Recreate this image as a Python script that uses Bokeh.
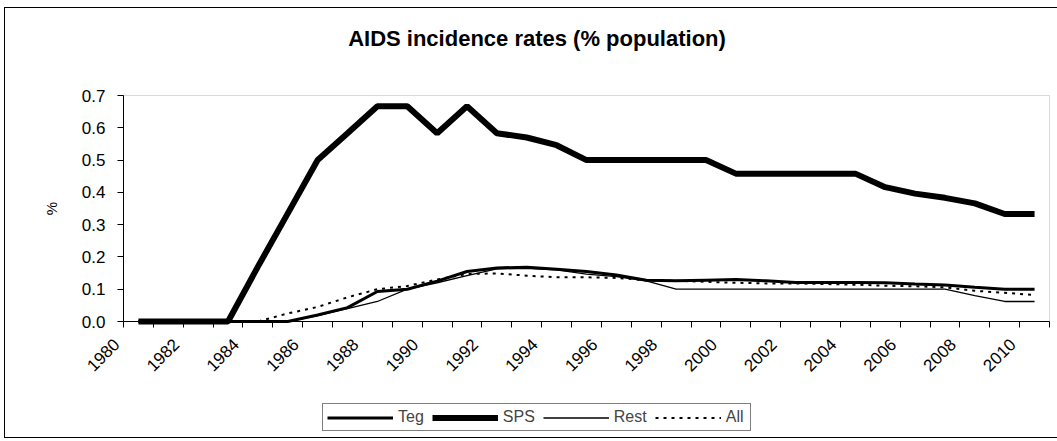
from bokeh.plotting import figure
from bokeh.models import (Range1d, FixedTicker, Legend, LegendItem, Label,
                          NumeralTickFormatter, BoxAnnotation, ColumnDataSource)
from bokeh.core.properties import value
from bokeh.embed import file_html
from bokeh.resources import INLINE
import math

years = list(range(1980, 2011))
tick_years = list(range(1980, 2011, 2))
tick_labels = [str(y) for y in tick_years]

sps = [0, 0, 0, 0, 0.17, 0.335, 0.5, 0.583, 0.667, 0.667, 0.583, 0.667, 0.583, 0.57, 0.546,
       0.5, 0.5, 0.5, 0.5, 0.5, 0.458, 0.458, 0.458, 0.458, 0.458, 0.416, 0.396, 0.383, 0.366,
       0.333, 0.333]
teg = [0, 0, 0, 0, 0, 0, 0.02, 0.043, 0.093, 0.1, 0.125, 0.155, 0.166, 0.168, 0.162,
       0.155, 0.144, 0.128, 0.126, 0.128, 0.13, 0.126, 0.121, 0.121, 0.121, 0.12, 0.116, 0.113,
       0.106, 0.1, 0.1]
rest = [0, 0, 0, 0, 0, 0, 0.018, 0.04, 0.062, 0.1, 0.12, 0.142, 0.163, 0.165, 0.16,
        0.147, 0.139, 0.126, 0.1, 0.1, 0.1, 0.1, 0.1, 0.1, 0.1, 0.1, 0.1, 0.1,
        0.08, 0.062, 0.062]
all_ = [0, 0, 0, 0, 0, 0.025, 0.045, 0.075, 0.1, 0.11, 0.13, 0.147, 0.149, 0.142, 0.137,
        0.137, 0.135, 0.128, 0.126, 0.123, 0.12, 0.118, 0.118, 0.116, 0.114, 0.111, 0.109, 0.106,
        0.095, 0.089, 0.082]

FONT = "Liberation Sans"

# ---- layout (pixels) ----
W, H = 1057, 440
FR_L, FR_R, FR_T, FR_B = 5, 1056, 8, 436      # whole inner chart area (frame)
PA_L, PA_R, PA_T, PA_B = 123, 1049, 95, 321   # plot area inside it
X0, X1 = years[0] - 0.5, years[-1] + 0.5
Y0, Y1 = 0.0, 0.7
ppx = (PA_R - PA_L) / (X1 - X0)
ppy = (PA_B - PA_T) / (Y1 - Y0)
x_range = Range1d(X0 - (PA_L - FR_L) / ppx, X1 + (FR_R - PA_R) / ppx)
y_range = Range1d(Y0 - (FR_B - PA_B) / ppy, Y1 + (PA_T - FR_T) / ppy)

p = figure(width=W, height=H, output_backend="svg", toolbar_location=None,
           x_range=x_range, y_range=y_range,
           min_border_left=FR_L, min_border_right=W - FR_R,
           min_border_top=FR_T, min_border_bottom=H - FR_B)
p.styles = {"background": "linear-gradient(#000,#000) 4px 7px/1px 431px no-repeat, "
                          "linear-gradient(#000,#000) 4px 7px/1060px 1px no-repeat, "
                          "linear-gradient(#000,#000) 4px 437px/1060px 1px no-repeat, #fff"}
p.border_fill_color = None
p.background_fill_color = "white"
p.outline_line_color = None
p.xgrid.visible = False
p.ygrid.visible = False

# grey plot-area border
p.add_layout(BoxAnnotation(left=X0, right=X1, bottom=Y0, top=Y1, fill_alpha=0,
                           line_color="#808080", line_width=1, level="underlay"))

# y axis
p.yaxis.fixed_location = X0
p.yaxis.bounds = (Y0, Y1)
p.yaxis.ticker = FixedTicker(ticks=[i / 10 for i in range(8)])
p.yaxis.formatter = NumeralTickFormatter(format="0.0")
p.yaxis.major_tick_out = 6
p.yaxis.major_tick_in = 0
p.yaxis.minor_tick_line_color = None
p.yaxis.axis_line_color = "black"
p.yaxis.major_tick_line_color = "black"
p.yaxis.major_label_text_font = FONT
p.yaxis.major_label_text_font_size = "17px"
p.yaxis.major_label_text_color = "black"
p.yaxis.major_label_standoff = 12
p.yaxis.axis_label = "%"
p.yaxis.axis_label_text_font = FONT
p.yaxis.axis_label_text_font_size = "15px"
p.yaxis.axis_label_text_font_style = "normal"
p.yaxis.axis_label_text_color = "black"
p.yaxis.axis_label_standoff = 19

# x axis: ticks at category boundaries
bounds_ticks = [y - 0.5 for y in years] + [years[-1] + 0.5]
p.xaxis.fixed_location = Y0
p.xaxis.bounds = (X0, X1)
p.xaxis.ticker = FixedTicker(ticks=bounds_ticks)
p.xaxis.major_label_overrides = {b: "" for b in bounds_ticks}
p.xaxis.major_tick_out = 6
p.xaxis.major_tick_in = 0
p.xaxis.minor_tick_line_color = None
p.xaxis.axis_line_color = "black"
p.xaxis.major_tick_line_color = "black"

# rotated year labels
lab_src = ColumnDataSource(dict(x=tick_years, y=[Y0] * len(tick_years), t=tick_labels))
p.text(x="x", y="y", text="t", source=lab_src, angle=math.pi / 4,
       x_offset=-22, y_offset=20, text_align="right", text_baseline="middle",
       text_font=value(FONT), text_font_size="17px", text_color="black")

# title
p.add_layout(Label(x=(x_range.start + x_range.end) / 2, y=Y1 + (PA_T - 38) / ppy,
                   x_offset=6, text="AIDS incidence rates (% population)",
                   text_align="center", text_baseline="middle",
                   text_font=FONT, text_font_size="22px", text_font_style="bold",
                   text_color="black"))

r_teg = p.line(years, teg, line_color="black", line_width=3)
r_sps = p.line(years, sps, line_color="black", line_width=6)
r_rest = p.line(years, rest, line_color="black", line_width=1.3)
r_all = p.line(years, all_, line_color="black", line_width=2, line_dash="3 5")

legend = Legend(items=[LegendItem(label="Teg", renderers=[r_teg]),
                       LegendItem(label="SPS", renderers=[r_sps]),
                       LegendItem(label="Rest", renderers=[r_rest]),
                       LegendItem(label="All", renderers=[r_all])],
                orientation="horizontal", location=(322 - FR_L, FR_B - 431),
                glyph_width=66, glyph_height=17, label_height=17,
                label_text_font=FONT, label_text_font_size="16px",
                label_standoff=5, spacing=8, padding=4, margin=0,
                border_line_color="black", border_line_width=1,
                background_fill_color="white", background_fill_alpha=1)
p.add_layout(legend, "center")

open("out.html", "w").write(file_html(p, INLINE))
